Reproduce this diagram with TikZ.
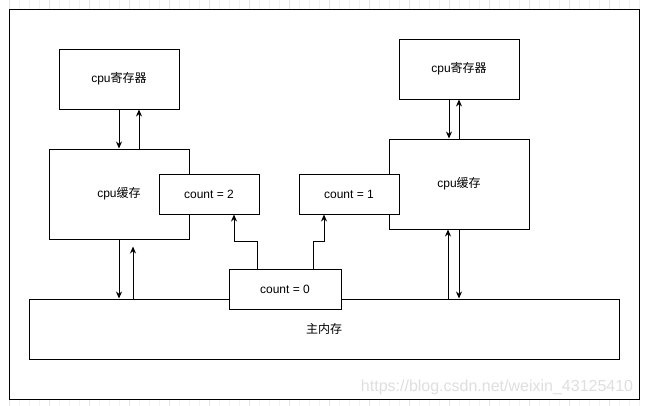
\documentclass[tikz,border=0pt]{standalone}
\usepackage{fontspec}
\setmainfont{Liberation Sans}
\newfontfamily\zhfont{Noto Sans CJK SC}
\newcommand{\zhtext}[1]{{\zhfont #1}}
\usepackage{tikz}
\usetikzlibrary{positioning}
\usetikzlibrary{arrows.meta}
\usetikzlibrary{calc}
\tikzset{
    memory diagram/.style={
            x=1pt,y=-1pt,
            line width=1pt,
            font=\fontsize{12}{14}\selectfont,
            box/.style={draw,fill=white,inner sep=0pt},
            arr/.style={-{Stealth[length=7pt,width=6pt]}}
        }
    }
\begin{document}
\begin{tikzpicture}[memory diagram]
    \useasboundingbox (0,0) rectangle (646,405);
    % faint page grid
    \draw [line width=0.4pt, gray!10, shift={(9,9)}] (-10,-10) grid [step=10] (640,400);
    \draw [line width=0.4pt, gray!22, shift={(9,9)}] (-40,-40) grid [step=40] (640,400);
    \draw [fill=white] (9,9) rectangle (639,399);

    \node [box, minimum width=590, minimum height=60] (mem) at (324,329) {\zhtext{主内存}};
    \node [box, minimum width=112, minimum height=40] (c0) at (285,289) {count = 0};

    \node [box, minimum width=120, minimum height=60] (reg1) at (119,79) {cpu\zhtext{寄存器}};
    \node [box, minimum width=140, minimum height=90] (cache1) at (119,194) {cpu\zhtext{缓存}};
    \node [box, minimum width=100, minimum height=40] (c2) at (209,194) {count = 2};

    \node [box, minimum width=120, minimum height=60] (reg2) at (459,69) {cpu\zhtext{寄存器}};
    \node [box, minimum width=140, minimum height=90] (cache2) at (459,184) {cpu\zhtext{缓存}};
    \node [box, minimum width=100, minimum height=40] (c1) at (349,194) {count = 1};

    \draw [arr] (reg1.south) -- (cache1.north);
    \draw [arr] ([xshift=20pt]cache1.north) -- ([xshift=20pt]reg1.south);
    \draw [arr] (cache1.south) -- (cache1.south |- mem.north);
    \draw [arr] ([xshift=14pt]cache1.south |- mem.north) -- ([xshift=14pt,yshift=-7pt]cache1.south);

    \draw [arr] ([xshift=-10pt]reg2.south) -- ([xshift=-10pt]cache2.north);
    \draw [arr] (cache2.north) -- (reg2.south);
    \draw [arr] ([xshift=-11pt]cache2.south |- mem.north) -- ([xshift=-11pt]cache2.south);
    \draw [arr] (cache2.south) -- (cache2.south |- mem.north);

    \draw [arr] ([xshift=-28pt]c0.north) -- ++(0,-27) -| ([xshift=25pt]c2.south);
    \draw [arr] ([xshift=28pt]c0.north) -- ++(0,-27) -| ([xshift=-25pt]c1.south);

    \node [gray!25, font=\fontsize{16}{18}\selectfont, anchor=east] (mark) at (637,387) {https://blog.csdn.net/weixin\_43125410};
\end{tikzpicture}
\end{document}
